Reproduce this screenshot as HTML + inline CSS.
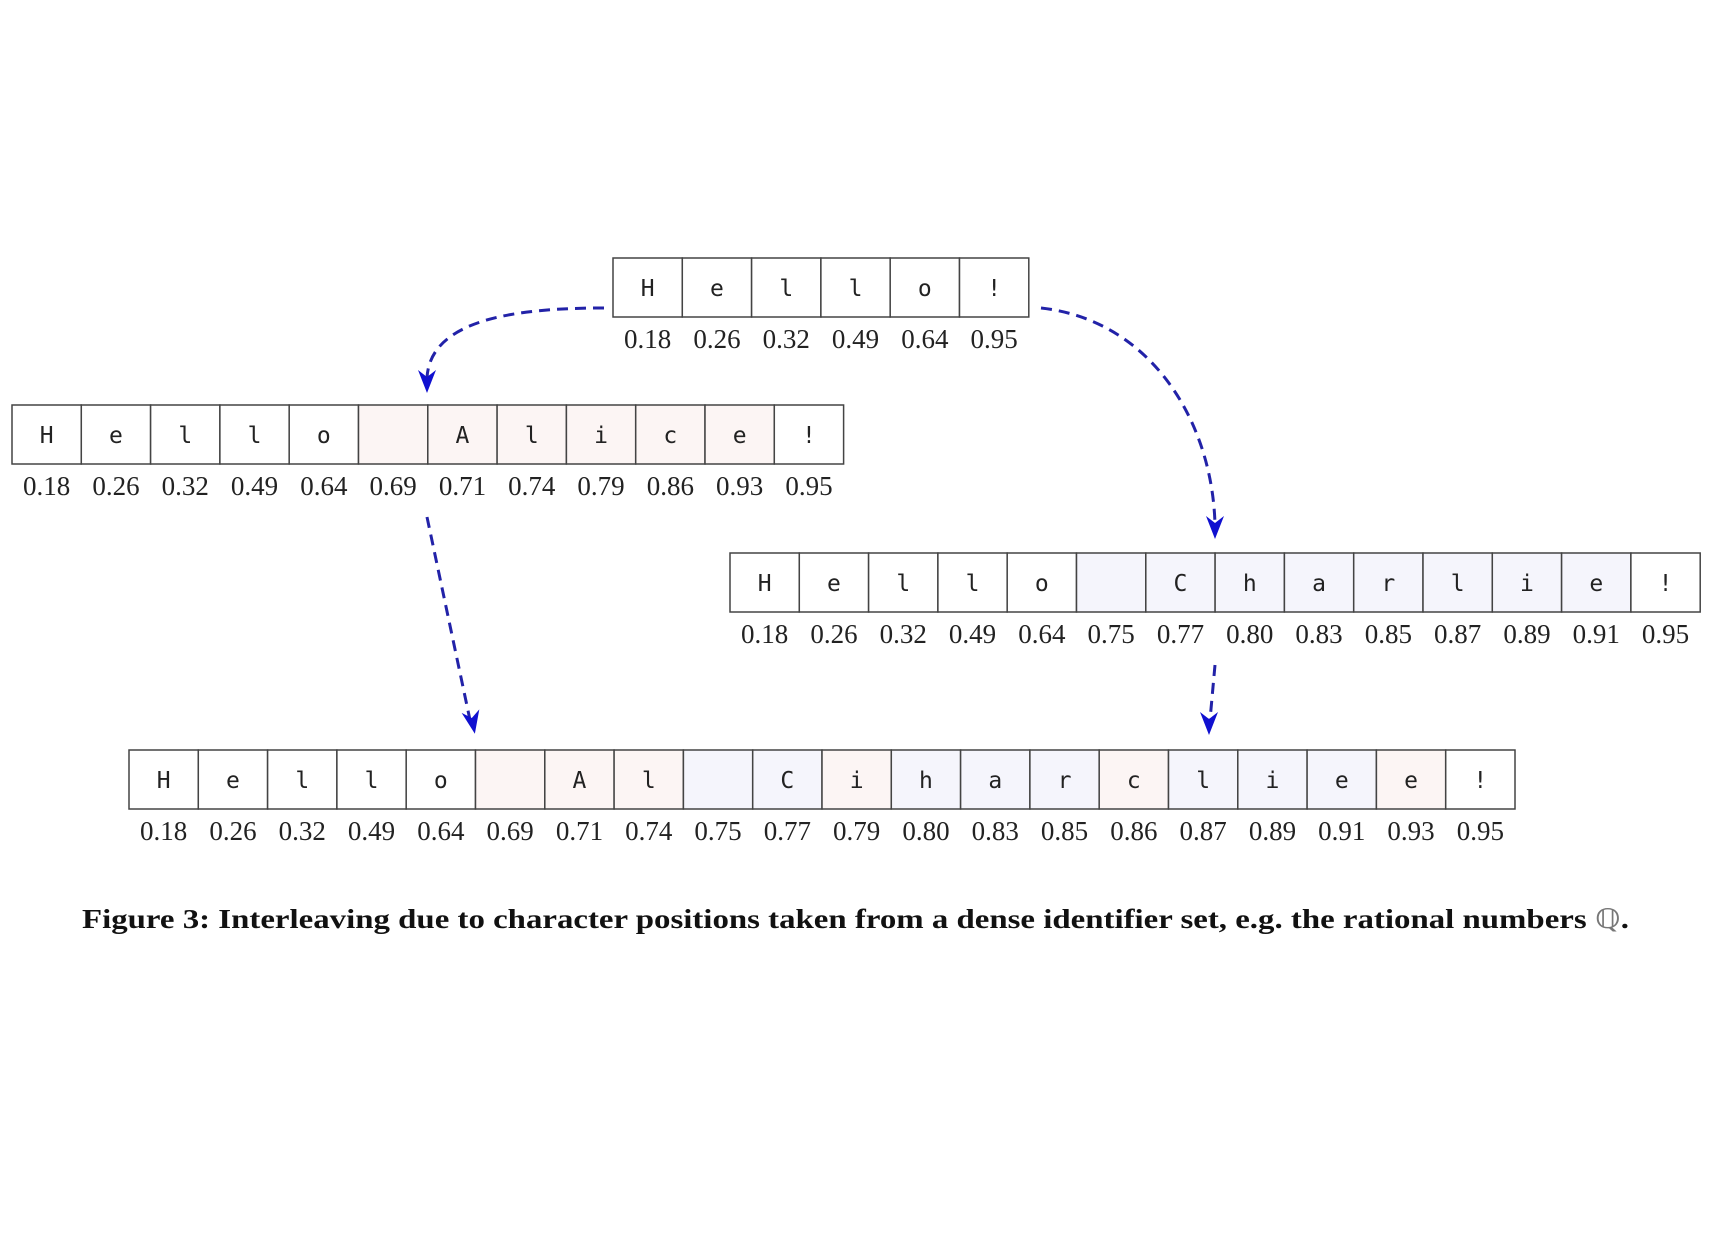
<!DOCTYPE html>
<html><head><meta charset="utf-8"><style>
html,body{margin:0;padding:0;background:#fff;}
svg{display:block;}
.c{font-family:"DejaVu Sans Mono","Liberation Mono",monospace;font-size:23px;fill:#222;text-anchor:middle;}
.n{font-family:"Liberation Serif",serif;font-size:27px;fill:#222;text-anchor:middle;}
rect{stroke:#444;stroke-width:1.5;}
.w{fill:#fff}.p{fill:#fcf5f4}.l{fill:#f5f5fc}
.a{fill:none;stroke:#2222a8;stroke-width:3;stroke-dasharray:11 7;}
.h{fill:#1010d0;}
</style></head><body>
<svg width="1714" height="1246" viewBox="0 0 1714 1246" xmlns="http://www.w3.org/2000/svg">
<!-- Row 1 -->
<g transform="translate(613,258)">
<rect class="w" x="0" y="0" width="69.3" height="59"/><rect class="w" x="69.3" y="0" width="69.3" height="59"/><rect class="w" x="138.6" y="0" width="69.3" height="59"/><rect class="w" x="207.9" y="0" width="69.3" height="59"/><rect class="w" x="277.2" y="0" width="69.3" height="59"/><rect class="w" x="346.5" y="0" width="69.3" height="59"/>
<text class="c" x="34.65" y="38">H</text><text class="c" x="103.95" y="38">e</text><text class="c" x="173.25" y="38">l</text><text class="c" x="242.55" y="38">l</text><text class="c" x="311.85" y="38">o</text><text class="c" x="381.15" y="38">!</text>
<text class="n" x="34.65" y="90">0.18</text><text class="n" x="103.95" y="90">0.26</text><text class="n" x="173.25" y="90">0.32</text><text class="n" x="242.55" y="90">0.49</text><text class="n" x="311.85" y="90">0.64</text><text class="n" x="381.15" y="90">0.95</text>
</g>
<!-- Row 2 -->
<g transform="translate(12,405)">
<rect class="w" x="0" y="0" width="69.3" height="59"/><rect class="w" x="69.3" y="0" width="69.3" height="59"/><rect class="w" x="138.6" y="0" width="69.3" height="59"/><rect class="w" x="207.9" y="0" width="69.3" height="59"/><rect class="w" x="277.2" y="0" width="69.3" height="59"/><rect class="p" x="346.5" y="0" width="69.3" height="59"/><rect class="p" x="415.8" y="0" width="69.3" height="59"/><rect class="p" x="485.1" y="0" width="69.3" height="59"/><rect class="p" x="554.4" y="0" width="69.3" height="59"/><rect class="p" x="623.7" y="0" width="69.3" height="59"/><rect class="p" x="693" y="0" width="69.3" height="59"/><rect class="w" x="762.3" y="0" width="69.3" height="59"/>
<text class="c" x="34.65" y="38">H</text><text class="c" x="103.95" y="38">e</text><text class="c" x="173.25" y="38">l</text><text class="c" x="242.55" y="38">l</text><text class="c" x="311.85" y="38">o</text><text class="c" x="450.45" y="38">A</text><text class="c" x="519.75" y="38">l</text><text class="c" x="589.05" y="38">i</text><text class="c" x="658.35" y="38">c</text><text class="c" x="727.65" y="38">e</text><text class="c" x="796.95" y="38">!</text>
<text class="n" x="34.65" y="90">0.18</text><text class="n" x="103.95" y="90">0.26</text><text class="n" x="173.25" y="90">0.32</text><text class="n" x="242.55" y="90">0.49</text><text class="n" x="311.85" y="90">0.64</text><text class="n" x="381.15" y="90">0.69</text><text class="n" x="450.45" y="90">0.71</text><text class="n" x="519.75" y="90">0.74</text><text class="n" x="589.05" y="90">0.79</text><text class="n" x="658.35" y="90">0.86</text><text class="n" x="727.65" y="90">0.93</text><text class="n" x="796.95" y="90">0.95</text>
</g>
<!-- Row 3 -->
<g transform="translate(730,553)">
<rect class="w" x="0" y="0" width="69.3" height="59"/><rect class="w" x="69.3" y="0" width="69.3" height="59"/><rect class="w" x="138.6" y="0" width="69.3" height="59"/><rect class="w" x="207.9" y="0" width="69.3" height="59"/><rect class="w" x="277.2" y="0" width="69.3" height="59"/><rect class="l" x="346.5" y="0" width="69.3" height="59"/><rect class="l" x="415.8" y="0" width="69.3" height="59"/><rect class="l" x="485.1" y="0" width="69.3" height="59"/><rect class="l" x="554.4" y="0" width="69.3" height="59"/><rect class="l" x="623.7" y="0" width="69.3" height="59"/><rect class="l" x="693" y="0" width="69.3" height="59"/><rect class="l" x="762.3" y="0" width="69.3" height="59"/><rect class="l" x="831.6" y="0" width="69.3" height="59"/><rect class="w" x="900.9" y="0" width="69.3" height="59"/>
<text class="c" x="34.65" y="38">H</text><text class="c" x="103.95" y="38">e</text><text class="c" x="173.25" y="38">l</text><text class="c" x="242.55" y="38">l</text><text class="c" x="311.85" y="38">o</text><text class="c" x="450.45" y="38">C</text><text class="c" x="519.75" y="38">h</text><text class="c" x="589.05" y="38">a</text><text class="c" x="658.35" y="38">r</text><text class="c" x="727.65" y="38">l</text><text class="c" x="796.95" y="38">i</text><text class="c" x="866.25" y="38">e</text><text class="c" x="935.55" y="38">!</text>
<text class="n" x="34.65" y="90">0.18</text><text class="n" x="103.95" y="90">0.26</text><text class="n" x="173.25" y="90">0.32</text><text class="n" x="242.55" y="90">0.49</text><text class="n" x="311.85" y="90">0.64</text><text class="n" x="381.15" y="90">0.75</text><text class="n" x="450.45" y="90">0.77</text><text class="n" x="519.75" y="90">0.80</text><text class="n" x="589.05" y="90">0.83</text><text class="n" x="658.35" y="90">0.85</text><text class="n" x="727.65" y="90">0.87</text><text class="n" x="796.95" y="90">0.89</text><text class="n" x="866.25" y="90">0.91</text><text class="n" x="935.55" y="90">0.95</text>
</g>
<!-- Row 4 -->
<g transform="translate(129,750)">
<rect class="w" x="0" y="0" width="69.3" height="59"/><rect class="w" x="69.3" y="0" width="69.3" height="59"/><rect class="w" x="138.6" y="0" width="69.3" height="59"/><rect class="w" x="207.9" y="0" width="69.3" height="59"/><rect class="w" x="277.2" y="0" width="69.3" height="59"/><rect class="p" x="346.5" y="0" width="69.3" height="59"/><rect class="p" x="415.8" y="0" width="69.3" height="59"/><rect class="p" x="485.1" y="0" width="69.3" height="59"/><rect class="l" x="554.4" y="0" width="69.3" height="59"/><rect class="l" x="623.7" y="0" width="69.3" height="59"/><rect class="p" x="693" y="0" width="69.3" height="59"/><rect class="l" x="762.3" y="0" width="69.3" height="59"/><rect class="l" x="831.6" y="0" width="69.3" height="59"/><rect class="l" x="900.9" y="0" width="69.3" height="59"/><rect class="p" x="970.2" y="0" width="69.3" height="59"/><rect class="l" x="1039.5" y="0" width="69.3" height="59"/><rect class="l" x="1108.8" y="0" width="69.3" height="59"/><rect class="l" x="1178.1" y="0" width="69.3" height="59"/><rect class="p" x="1247.4" y="0" width="69.3" height="59"/><rect class="w" x="1316.7" y="0" width="69.3" height="59"/>
<text class="c" x="34.65" y="38">H</text><text class="c" x="103.95" y="38">e</text><text class="c" x="173.25" y="38">l</text><text class="c" x="242.55" y="38">l</text><text class="c" x="311.85" y="38">o</text><text class="c" x="450.45" y="38">A</text><text class="c" x="519.75" y="38">l</text><text class="c" x="658.35" y="38">C</text><text class="c" x="727.65" y="38">i</text><text class="c" x="796.95" y="38">h</text><text class="c" x="866.25" y="38">a</text><text class="c" x="935.55" y="38">r</text><text class="c" x="1004.85" y="38">c</text><text class="c" x="1074.15" y="38">l</text><text class="c" x="1143.45" y="38">i</text><text class="c" x="1212.75" y="38">e</text><text class="c" x="1282.05" y="38">e</text><text class="c" x="1351.35" y="38">!</text>
<text class="n" x="34.65" y="90">0.18</text><text class="n" x="103.95" y="90">0.26</text><text class="n" x="173.25" y="90">0.32</text><text class="n" x="242.55" y="90">0.49</text><text class="n" x="311.85" y="90">0.64</text><text class="n" x="381.15" y="90">0.69</text><text class="n" x="450.45" y="90">0.71</text><text class="n" x="519.75" y="90">0.74</text><text class="n" x="589.05" y="90">0.75</text><text class="n" x="658.35" y="90">0.77</text><text class="n" x="727.65" y="90">0.79</text><text class="n" x="796.95" y="90">0.80</text><text class="n" x="866.25" y="90">0.83</text><text class="n" x="935.55" y="90">0.85</text><text class="n" x="1004.85" y="90">0.86</text><text class="n" x="1074.15" y="90">0.87</text><text class="n" x="1143.45" y="90">0.89</text><text class="n" x="1212.75" y="90">0.91</text><text class="n" x="1282.05" y="90">0.93</text><text class="n" x="1351.35" y="90">0.95</text>
</g>
<!-- Arrows -->
<path class="a" d="M604,308 C520,308 430,318 427,378"/>
<polygon class="h" points="427,393 418,370 427,377 436,370"/>
<path class="a" d="M1041,308 C1150,320 1212,420 1215,524"/>
<polygon class="h" points="1215,539 1206,516 1215,523 1224,516"/>
<path class="a" d="M427,517 L470,720"/>
<polygon class="h" points="0,15 -9,-8 0,-1 9,-8" transform="translate(472,719) rotate(-11)"/>
<path class="a" d="M1215,665 L1210,720"/>
<polygon class="h" points="1209,735 1200,712 1209,719 1218,712"/>
<!-- Caption -->
<text x="82" y="928" textLength="1547" lengthAdjust="spacingAndGlyphs" style="font-family:'Liberation Serif',serif;font-weight:bold;font-size:27px;fill:#111;">Figure 3: Interleaving due to character positions taken from a dense identifier set, e.g. the rational numbers <tspan style="font-weight:normal;fill:#777">ℚ</tspan>.</text>
</svg>
</body></html>
